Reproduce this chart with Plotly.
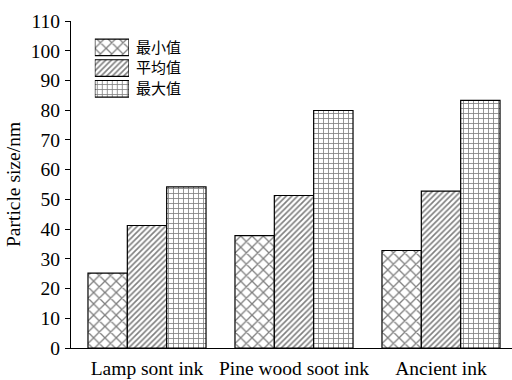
import plotly.graph_objects as go

categories = ["Lamp sont ink", "Pine wood soot ink", "Ancient ink"]
series_names = ["最小值", "平均值", "最大值"]
min_vals = [25.2, 37.8, 32.8]
avg_vals = [41.2, 51.3, 52.8]
max_vals = [54.2, 79.9, 83.3]
y_ticks = list(range(0, 111, 10))

patterns = ["x", "/", "+"]
pat_sizes = [8, 4, 5]
pat_sol = [0.3, 0.4, 0.3]

fig = go.Figure()
for name, vals, shp, sz, so in zip(series_names, [min_vals, avg_vals, max_vals], patterns, pat_sizes, pat_sol):
    fig.add_trace(go.Bar(
        x=categories, y=vals, name=name, showlegend=False,
        marker=dict(color="white", line=dict(color="black", width=1.2),
                    pattern=dict(shape=shp, size=sz, solidity=so, fgcolor="#000", bgcolor="white", fillmode="overlay")),
    ))

# legend swatches on an overlay axis
fig.add_trace(go.Bar(
    x=[1, 1, 1], y=series_names, orientation="h", xaxis="x2", yaxis="y2",
    showlegend=False, cliponaxis=False,
    marker=dict(color="white", line=dict(color="black", width=1.2),
                pattern=dict(shape=patterns, size=pat_sizes, solidity=pat_sol, fgcolor="#000", bgcolor="white")),
))

serif = "Liberation Serif, Times New Roman, serif"
fs = 19.5
fig.update_layout(
    width=512, height=380,
    margin=dict(l=71, r=0, t=21, b=32),
    paper_bgcolor="white", plot_bgcolor="white",
    barmode="group", bargap=0.197, bargroupgap=0,
    font=dict(family=serif, size=fs, color="black"),
    xaxis=dict(range=[-0.517, 2.483], showline=True, linecolor="black", linewidth=1.2,
               ticks="", showgrid=False, zeroline=False, ticklabelstandoff=2, automargin=False,
               tickfont=dict(family=serif, size=fs)),
    yaxis=dict(range=[0, 110], tickvals=y_ticks, showline=True, linecolor="black", linewidth=1.2,
               ticks="outside", ticklen=5, tickcolor="black", tickwidth=1.2, showgrid=False, zeroline=False,
               tickfont=dict(family=serif, size=fs), ticklabelstandoff=1, automargin=False,
               title=dict(text="Particle size/nm", font=dict(family=serif, size=fs), standoff=4)),
    xaxis2=dict(domain=[0.054, 0.1315], range=[0, 1], anchor="y2", visible=False),
    yaxis2=dict(domain=[0.761, 0.951], anchor="x2", type="category", autorange="reversed",
                side="right", showline=False, ticks="", showgrid=False, zeroline=False,
                ticklabelstandoff=6, automargin=False,
                tickfont=dict(family="Noto Sans CJK SC", size=15)),
)

fig.write_html("out.html")
